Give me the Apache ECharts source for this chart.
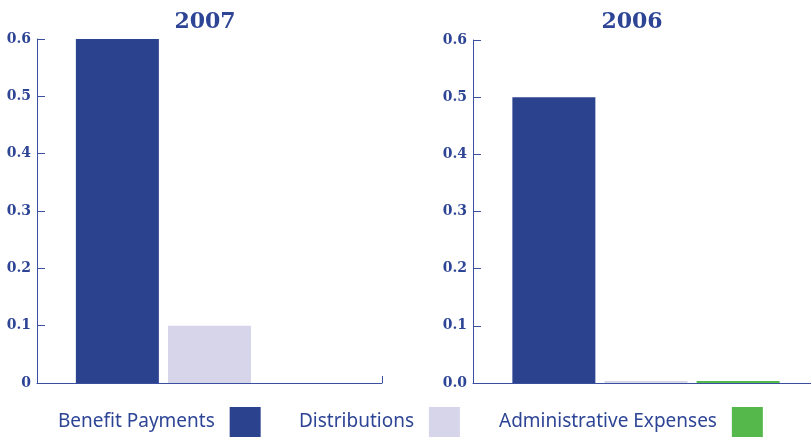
<!DOCTYPE html>
<html>
<head>
<meta charset="utf-8">
<script src="https://cdn.jsdelivr.net/npm/echarts@6/dist/echarts.min.js"></script>
<style>
  html, body { margin: 0; padding: 0; background: #fff; }
  #chart { width: 811px; height: 438px; }
</style>
</head>
<body>
<div id="chart"></div>
<script>
// data
var years = ['2007', '2006'];
var seriesNames = ['Benefit Payments', 'Distributions', 'Administrative Expenses'];
var benefitPayments = [0.6, 0.5];
var distributions = [0.1, 0];
var adminExpenses = [0, 0];
var yTicks = [0, 0.1, 0.2, 0.3, 0.4, 0.5, 0.6];

var colors = ['#2b428f', '#d6d5e9', '#55b84a'];
var ink = '#2e4596';
var values = [benefitPayments, distributions, adminExpenses];
var legendLeft = [58, 299, 499];

var chart = echarts.init(document.getElementById('chart'));

function yAxis(idx, zeroLabel) {
    return {
        type: 'value', gridIndex: idx,
        min: yTicks[0], max: yTicks[yTicks.length - 1], interval: 0.1,
        axisLine: { show: true, lineStyle: { color: '#3b4fa0', width: 1 } },
        axisTick: { show: true, inside: true, length: 8, lineStyle: { color: '#3b4fa0' } },
        splitLine: { show: false },
        axisLabel: {
            margin: 6,
            color: ink, fontFamily: 'DejaVu Serif', fontWeight: 'bold', fontSize: 14,
            formatter: function (v) { return v === 0 ? zeroLabel : v.toFixed(1); }
        }
    };
}

function xAxis(idx) {
    return {
        type: 'category', gridIndex: idx, data: [''],
        axisLine: { show: true, lineStyle: { color: '#3b4fa0', width: 1 } },
        axisTick: { show: true, inside: true, length: 7, lineStyle: { color: '#3b4fa0' } },
        axisLabel: { show: false }
    };
}

var series = [];
years.forEach(function (y, gi) {
    seriesNames.forEach(function (name, si) {
        series.push({
            name: name, type: 'bar',
            xAxisIndex: gi, yAxisIndex: gi,
            barWidth: 83, barGap: '11%',
            barMinHeight: gi === 1 && si > 0 ? 2 : 0,
            itemStyle: { color: colors[si] },
            data: [values[si][gi]]
        });
    });
});

// one legend per item so each sits where the original puts it
var legends = seriesNames.map(function (name, i) {
    return {
        data: [name],
        left: legendLeft[i], bottom: 1, padding: 0,
        align: 'right',
        itemWidth: 31, itemHeight: 30,
        icon: 'rect',
        formatter: function (n) { return n + '  '; },
        textStyle: { color: ink, fontFamily: 'Noto Sans', fontSize: 19 }
    };
});

chart.setOption({
    animation: false,
    title: [
        { text: years[0], left: 200, top: 6, textAlign: 'center',
          textStyle: { color: ink, fontFamily: 'DejaVu Serif', fontWeight: 'bold', fontSize: 22 } },
        { text: years[1], left: 627, top: 6, textAlign: 'center',
          textStyle: { color: ink, fontFamily: 'DejaVu Serif', fontWeight: 'bold', fontSize: 22 } }
    ],
    legend: legends,
    grid: [
        { left: 37, right: 429, top: 39, bottom: 55, outerBoundsMode: 'none' },
        { left: 473, right: -8, top: 40, bottom: 55, outerBoundsMode: 'none' }
    ],
    xAxis: [xAxis(0), xAxis(1)],
    yAxis: [yAxis(0, '0'), yAxis(1, '0.0')],
    series: series
});
</script>
</body>
</html>
